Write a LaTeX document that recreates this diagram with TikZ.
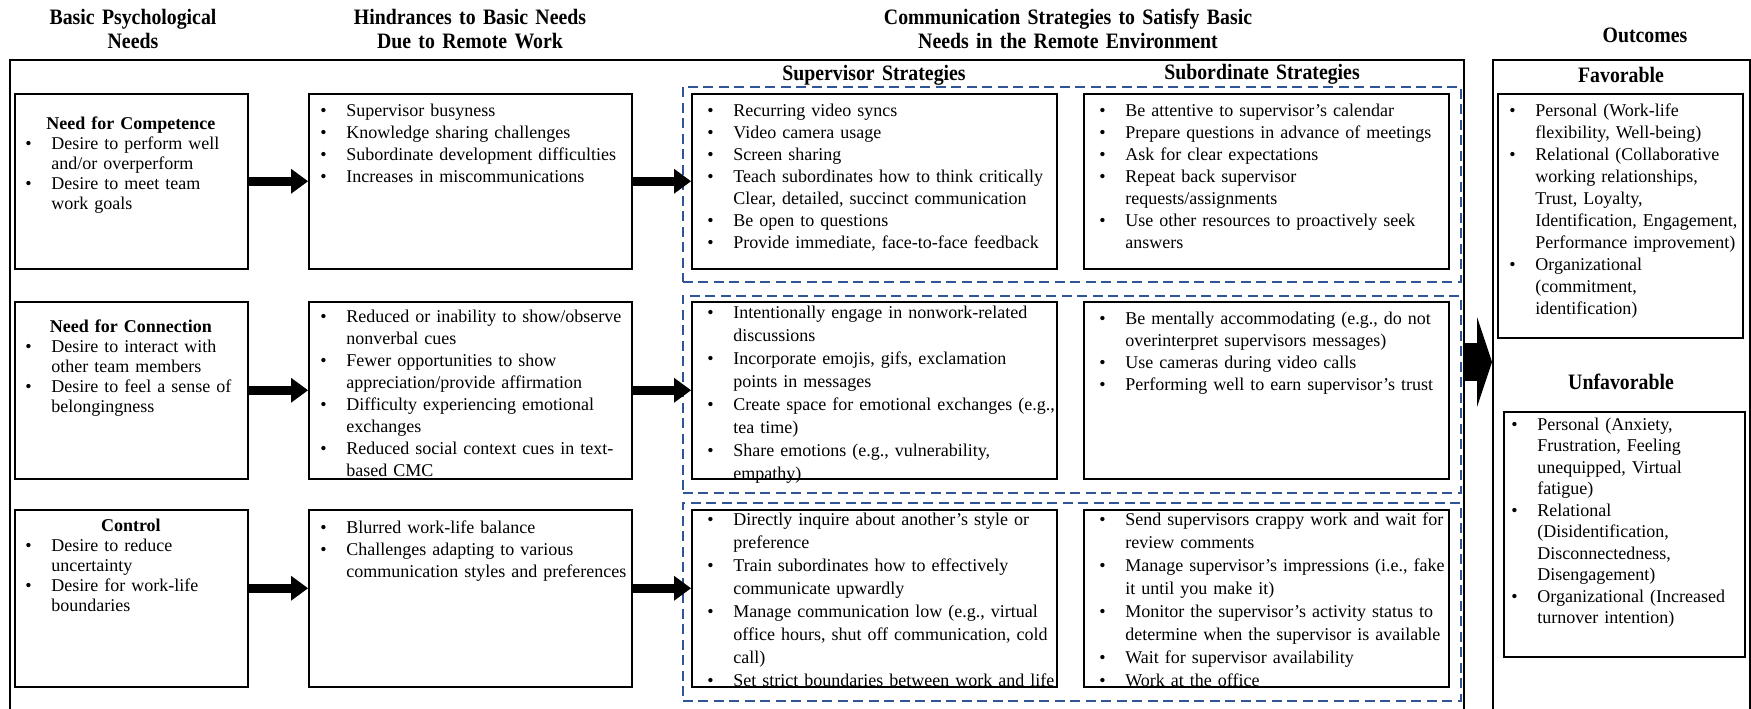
\documentclass[tikz,border=0pt]{standalone}
\usepackage{fontspec}
\setmainfont{Liberation Serif}
\newfontfamily\headfont[FakeStretch=0.9]{Liberation Serif}
\usetikzlibrary{arrows.meta}
\definecolor{dashblue}{RGB}{47,85,151}
\newlength\bind
\setlength\bind{13pt}
\newcommand\bl[1]{\noindent\hbox to\bind{\textbullet\hfil}\mbox{#1}\par}
\newcommand\cl[1]{\noindent\hskip\bind\mbox{#1}\par}
\newcommand\hd[1]{\noindent\hbox to\linewidth{\hfil\textbf{#1}\hfil}\par}
\begin{document}
\begin{tikzpicture}[x=0.5pt,y=-0.5pt,
  box/.style={draw,line width=0.75pt,anchor=north west,inner sep=0pt},
  dbox/.style={draw=dashblue,line width=0.8pt,dash pattern=on 5pt off 2.75pt,anchor=north west,inner sep=0pt},
  txt/.style={anchor=base west,inner sep=0pt,text width=#1,align=left,font=\fontsize{9}{11}\selectfont},
  wtxt/.style={txt=#1,font=\fontsize{9}{11.5}\selectfont},
  atxt/.style={txt=105.5pt,font=\fontsize{9}{10}\selectfont},
  head/.style={anchor=base,inner sep=0pt,text width=200pt,align=center,font=\headfont\bfseries\fontsize{11}{12}\selectfont},
  arr/.style={line width=4.5pt,-{Triangle[length=8.5pt,width=12.5pt,line width=0pt]}},
  bigarr/.style={line width=19pt,-{Triangle[length=7.5pt,width=45pt,line width=0pt]}}]
\path[use as bounding box,fill=white] (0,0) rectangle (1751,708);
% column headings
\node[head] (hneed) at (133,24) {Basic Psychological\\Needs};
\node[head] (hhind) at (470,24) {Hindrances to Basic Needs\\Due to Remote Work};
\node[head,text width=240pt] (hcomm) at (1068,24) {Communication Strategies to Satisfy Basic\\Needs in the Remote Environment};
\node[head] (hout) at (1645,42) {Outcomes};
% frames
\node[box,minimum width=727pt,minimum height=345pt] (frame) at (9,59) {};
\node[box,minimum width=128.5pt,minimum height=345pt] (outframe) at (1492,59) {};
\node[head] (hsup) at (874,80) {Supervisor Strategies};
\node[head] (hsub) at (1262,79) {Subordinate Strategies};
% dashed strategy groups and the four boxes of each row
\foreach \r/\y/\h/\s/\sh in {1/93/87.5pt/86/97.5pt,2/301/88.5pt/295/98.5pt,3/509/88.5pt/502/99pt}{
  \node[dbox,minimum width=389pt,minimum height=\sh] (s\r) at (682,\s) {};
  \node[box,minimum width=116.5pt,minimum height=\h] (a\r) at (14,\y) {};
  \node[box,minimum width=161.5pt,minimum height=\h] (b\r) at (308,\y) {};
  \node[box,minimum width=182.5pt,minimum height=\h] (c\r) at (691,\y) {};
  \node[box,minimum width=182.5pt,minimum height=\h] (d\r) at (1083,\y) {};
}
% row 1
\node[atxt] (a1t) at (25,129) {\hd{Need for Competence}\bl{Desire to perform well}\cl{and/or overperform}\bl{Desire to meet team}\cl{work goals}};
\node[txt=155pt] (b1t) at (320,116) {\bl{Supervisor busyness}\bl{Knowledge sharing challenges}\bl{Subordinate development difficulties}\bl{Increases in miscommunications}};
\node[txt=175pt] (c1t) at (707,116) {\bl{Recurring video syncs}\bl{Video camera usage}\bl{Screen sharing}\bl{Teach subordinates how to think critically}\cl{Clear, detailed, succinct communication}\bl{Be open to questions}\bl{Provide immediate, face-to-face feedback}};
\node[txt=175pt] (d1t) at (1099,116) {\bl{Be attentive to supervisor’s calendar}\bl{Prepare questions in advance of meetings}\bl{Ask for clear expectations}\bl{Repeat back supervisor}\cl{requests/assignments}\bl{Use other resources to proactively seek}\cl{answers}};
% row 2
\node[atxt] (a2t) at (25,332) {\hd{Need for Connection}\bl{Desire to interact with}\cl{other team members}\bl{Desire to feel a sense of}\cl{belongingness}};
\node[txt=155pt] (b2t) at (320,322) {\bl{Reduced or inability to show/observe}\cl{nonverbal cues}\bl{Fewer opportunities to show}\cl{appreciation/provide affirmation}\bl{Difficulty experiencing emotional}\cl{exchanges}\bl{Reduced social context cues in text-}\cl{based CMC}};
\node[wtxt=175pt] (c2t) at (707,318) {\bl{Intentionally engage in nonwork-related}\cl{discussions}\bl{Incorporate emojis, gifs, exclamation}\cl{points in messages}\bl{Create space for emotional exchanges (e.g.,}\cl{tea time)}\bl{Share emotions (e.g., vulnerability,}\cl{empathy)}};
\node[txt=175pt] (d2t) at (1099,324) {\bl{Be mentally accommodating (e.g., do not}\cl{overinterpret supervisors messages)}\bl{Use cameras during video calls}\bl{Performing well to earn supervisor’s trust}};
% row 3
\node[atxt] (a3t) at (25,531) {\hd{Control}\bl{Desire to reduce}\cl{uncertainty}\bl{Desire for work-life}\cl{boundaries}};
\node[txt=155pt] (b3t) at (320,533) {\bl{Blurred work-life balance}\bl{Challenges adapting to various}\cl{communication styles and preferences}};
\node[wtxt=175pt] (c3t) at (707,525) {\bl{Directly inquire about another’s style or}\cl{preference}\bl{Train subordinates how to effectively}\cl{communicate upwardly}\bl{Manage communication low (e.g., virtual}\cl{office hours, shut off communication, cold}\cl{call)}\bl{Set strict boundaries between work and life}};
\node[wtxt=175pt] (d3t) at (1099,525) {\bl{Send supervisors crappy work and wait for}\cl{review comments}\bl{Manage supervisor’s impressions (i.e., fake}\cl{it until you make it)}\bl{Monitor the supervisor’s activity status to}\cl{determine when the supervisor is available}\bl{Wait for supervisor availability}\bl{Work at the office}};
% outcomes
\node[head] (hfav) at (1621,82) {Favorable};
\node[box,minimum width=122.5pt,minimum height=122pt] (fav) at (1497,93) {};
\node[txt=115pt] (favt) at (1509,116) {\bl{Personal (Work-life}\cl{flexibility, Well-being)}\bl{Relational (Collaborative}\cl{working relationships,}\cl{Trust, Loyalty,}\cl{Identification, Engagement,}\cl{Performance improvement)}\bl{Organizational}\cl{(commitment,}\cl{identification)}};
\node[head] (hunf) at (1621,389) {Unfavorable};
\node[box,minimum width=120.5pt,minimum height=122.5pt] (unf) at (1503,411) {};
\node[txt=115pt,font=\fontsize{9}{10.75}\selectfont] (unft) at (1511,430) {\bl{Personal (Anxiety,}\cl{Frustration, Feeling}\cl{unequipped, Virtual}\cl{fatigue)}\bl{Relational}\cl{(Disidentification,}\cl{Disconnectedness,}\cl{Disengagement)}\bl{Organizational (Increased}\cl{turnover intention)}};
% connectors
\foreach \r/\sh in {1/0pt,2/0pt,3/5pt}{
  \draw[arr] ([yshift=\sh]a\r.east) -- ([yshift=\sh]b\r.west);
  \draw[arr] ([yshift=\sh]b\r.east) -- ([yshift=\sh]c\r.west);
}
\coordinate (bigy) at (0,362);
\draw[bigarr] (frame.east |- bigy) -- (outframe.west |- bigy);
\end{tikzpicture}
\end{document}
